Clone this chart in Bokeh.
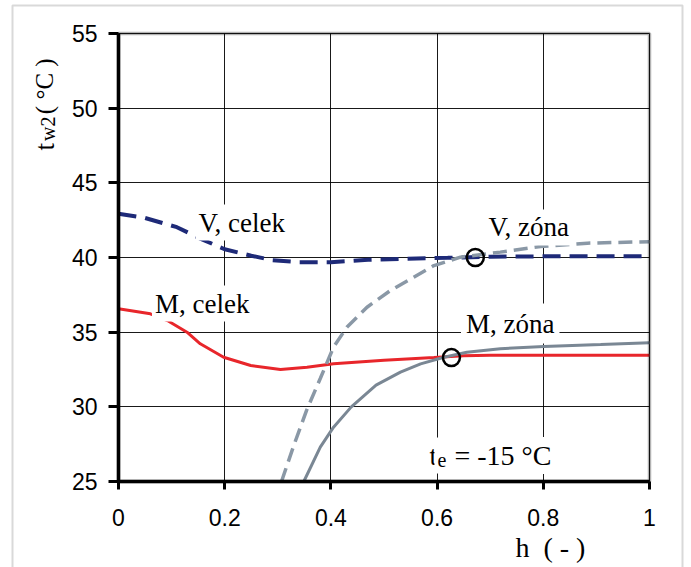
import math
from bokeh.plotting import figure
from bokeh.models import Label, BoxAnnotation, FixedTicker, Range1d
from bokeh.embed import file_html
from bokeh.resources import INLINE

# ---- data ----
v_celek_x = [0, 0.05, 0.11, 0.155, 0.2, 0.25, 0.29, 0.34, 0.4, 0.47, 0.53, 0.62, 0.7, 0.8, 0.9, 1.0]
v_celek_y = [42.93, 42.65, 42.03, 41.25, 40.55, 40.12, 39.82, 39.69, 39.69, 39.85, 39.91, 39.98, 40.05, 40.08, 40.08, 40.08]

m_celek_x = [0, 0.06, 0.092, 0.129, 0.154, 0.198, 0.249, 0.305, 0.355, 0.405, 0.5, 0.594, 0.65, 0.7, 0.8, 0.9, 1.0]
m_celek_y = [36.57, 36.23, 35.78, 35.0, 34.22, 33.32, 32.77, 32.5, 32.65, 32.88, 33.12, 33.3, 33.42, 33.45, 33.45, 33.45, 33.45]

v_zona_x = [0.307, 0.33, 0.354, 0.38, 0.405, 0.43, 0.468, 0.512, 0.556, 0.594, 0.644, 0.719, 0.795, 0.883, 1.0]
v_zona_y = [25.0, 27.4, 29.75, 31.9, 34.0, 35.33, 36.67, 37.79, 38.68, 39.46, 40.02, 40.36, 40.74, 40.96, 41.06]

m_zona_x = [0.349, 0.38, 0.405, 0.438, 0.485, 0.531, 0.569, 0.613, 0.656, 0.719, 0.801, 0.908, 1.0]
m_zona_y = [25.0, 27.3, 28.64, 29.98, 31.45, 32.32, 32.88, 33.32, 33.66, 33.89, 34.04, 34.17, 34.29]

circle_x = [0.672, 0.627]
circle_y = [40.0, 33.3]

x_ticks = [0, 0.2, 0.4, 0.6, 0.8, 1.0]
x_tick_labels = ["0", "0.2", "0.4", "0.6", "0.8", "1"]
y_ticks = [25, 30, 35, 40, 45, 50, 55]

X0, X1 = 0.0, 1.0
Y0, Y1 = 25.0, 55.0

# ---- figure: frame covers whole canvas, axes are placed at fixed locations ----
W, H = 691, 567
FL, FR, FT, FB = 118, 649, 33, 481          # pixel box of the plotting area
sx = (FR - FL) / (X1 - X0)
sy = (FB - FT) / (Y1 - Y0)
p = figure(width=W, height=H, output_backend="svg", toolbar_location=None, title=None,
           x_range=Range1d(X0 - FL / sx, X1 + (W - FR) / sx),
           y_range=Range1d(Y0 - (H - FB) / sy, Y1 + FT / sy),
           min_border_left=0, min_border_right=0, min_border_top=0, min_border_bottom=0)
p.background_fill_color = "white"
p.border_fill_color = "white"
p.outline_line_color = None

for ax in (p.xaxis[0], p.yaxis[0]):
    ax.axis_line_width = 3.5
    ax.axis_line_color = "black"
    ax.major_tick_line_width = 3
    ax.major_tick_line_color = "black"
    ax.major_tick_in = 0
    ax.minor_tick_line_color = None
    ax.major_label_text_font = "Liberation Sans"
    ax.major_label_text_font_size = "23px"
    ax.major_label_text_color = "black"

p.xaxis.fixed_location = Y0
p.xaxis.bounds = (X0, X1)
p.xaxis.ticker = FixedTicker(ticks=x_ticks)
p.xaxis.major_label_overrides = {t: s for t, s in zip(x_ticks, x_tick_labels)}
p.xaxis.major_tick_out = 8
p.xaxis.major_label_standoff = 19

p.yaxis.fixed_location = X0
p.yaxis.bounds = (Y0, Y1)
p.yaxis.ticker = FixedTicker(ticks=y_ticks)
p.yaxis.major_tick_out = 10
p.yaxis.major_label_standoff = 11

p.xgrid.bounds = (X0, X1)
p.xgrid.cross_bounds = (Y0, Y1)
p.ygrid.bounds = (Y0, Y1)
p.ygrid.cross_bounds = (X0, X1)
for g in (p.xgrid[0], p.ygrid[0]):
    g.grid_line_color = "black"
    g.grid_line_width = 1
    g.grid_line_alpha = 0.9

# plot-area border and outer grey frame
p.add_layout(BoxAnnotation(left=X0, right=X1, bottom=Y0, top=Y1, fill_alpha=0,
                           line_color="black", line_width=3.5, level="overlay"))
p.add_layout(BoxAnnotation(left=X0 - (FL - 12) / sx, right=X1 + (682 - FR) / sx,
                           top=Y1 + (FT - 5) / sy, bottom=Y0 - (H + 20 - FB) / sy,
                           fill_alpha=0, line_color="#808080", line_width=2))

# ---- lines ----
p.line(v_celek_x, v_celek_y, line_color="#1e2a78", line_width=4, line_dash="18 9")
p.line(m_celek_x, m_celek_y, line_color="#e8262b", line_width=3)
p.line(v_zona_x, v_zona_y, line_color="#8a98a6", line_width=3.5, line_dash="14 7")
p.line(m_zona_x, m_zona_y, line_color="#7a8794", line_width=3)
p.scatter(circle_x, circle_y, marker="circle", size=17, fill_color=None,
          line_color="black", line_width=2.5)

SERIF = "Liberation Serif"
DY = 10 / sy   # baseline correction (px -> data)
DX = 10 / sx

def lab(x, y, text, size="27px", angle=0, bg=True, pad=3):
    kw = dict(x=x, y=y, text=text, text_font=SERIF, text_font_size=size,
              text_color="black", text_align="left", text_baseline="alphabetic",
              angle=angle)
    if bg:
        kw.update(background_fill_color="white", padding=pad)
    p.add_layout(Label(**kw))

lab(0.145, 41.67 + DY, "V, celek")
lab(0.691, 41.34 + DY, "V, zóna")
lab(0.063, 36.25 + DY, "M, celek")
lab(0.645, 34.91 + DY, "M, zóna", pad=5)
lab(0.580, 26.07 + DY, "t")
lab(0.595, 25.75 + DY, "e", size="20px")
lab(0.627, 26.07 + DY, "= -15 °C", size="28px")

# axis titles
lab(-0.1205 - DX, 47.17, "t", angle=math.pi / 2, bg=False)
lab(-0.113 - DX, 47.80, "w2", size="20px", angle=math.pi / 2, bg=False)
lab(-0.1205 - DX, 49.60, "( °C )", size="25px", angle=math.pi / 2, bg=False)
lab(0.7476, 19.91 + DY, "h\u00a0\u00a0(\u00a0-\u00a0)", size="28px", bg=False)

open("out.html", "w").write(file_html(p, INLINE))
